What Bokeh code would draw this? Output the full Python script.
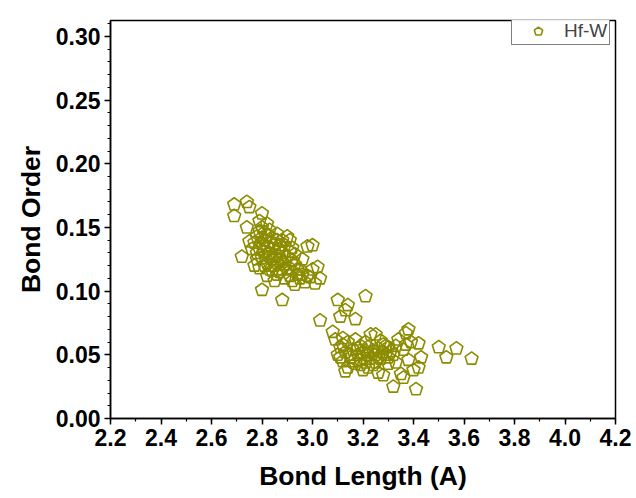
from bokeh.plotting import figure
from bokeh.models import ColumnDataSource, FixedTicker, NumeralTickFormatter, Legend, LegendItem
from bokeh.embed import file_html
from bokeh.resources import INLINE

bond_length = [
    2.69, 2.69, 2.74, 2.75, 2.72, 2.74, 2.75, 2.77, 2.78, 2.79, 2.80, 2.80, 2.81, 2.81, 2.82, 2.82,
    2.83, 2.83, 2.84, 2.84, 2.85, 2.85, 2.86, 2.86, 2.87, 2.87, 2.88, 2.88, 2.89, 2.89, 2.90, 2.90,
    2.91, 2.91, 2.92, 2.92, 2.93, 2.94, 2.95, 2.96, 2.97, 2.98, 2.98, 3.00, 3.00, 3.01, 3.02, 3.03,
    2.80, 2.85, 2.88, 2.79, 2.78, 2.77, 2.79, 2.80, 2.81, 2.82, 2.83, 2.84, 2.86, 2.87, 2.88, 2.89,
    2.90, 2.91, 2.93, 2.94, 2.95, 2.96, 2.82, 2.81, 2.83, 2.85, 2.86, 2.87, 2.80, 2.82, 2.84, 2.79,
    2.76, 2.78, 2.80, 2.83, 2.88, 2.91, 2.93, 2.99, 2.86, 2.92, 2.81,
    3.03, 3.08, 3.10, 3.11, 3.13, 3.14, 3.17, 3.21, 3.09, 3.12,
    3.10, 3.11, 3.12, 3.13, 3.14, 3.14, 3.15, 3.16, 3.17, 3.17, 3.18, 3.19, 3.19, 3.20, 3.20, 3.21,
    3.21, 3.22, 3.22, 3.23, 3.23, 3.24, 3.24, 3.25, 3.25, 3.26, 3.26, 3.27, 3.27, 3.28, 3.28, 3.29,
    3.30, 3.30, 3.31, 3.32, 3.32, 3.33, 3.34, 3.35, 3.36, 3.36, 3.37, 3.37, 3.38, 3.38, 3.39, 3.40,
    3.41, 3.42, 3.42, 3.43, 3.50, 3.53, 3.57, 3.63, 3.15, 3.16, 3.18, 3.23, 3.25, 3.29, 3.12, 3.19,
    3.22, 3.26, 3.28, 3.21, 3.30, 3.33, 3.13, 3.11,
]
bond_order = [
    0.168, 0.159, 0.170, 0.166, 0.127, 0.150, 0.139, 0.120, 0.143, 0.155, 0.161, 0.150, 0.146, 0.140, 0.153, 0.135,
    0.148, 0.130, 0.142, 0.125, 0.137, 0.120, 0.145, 0.128, 0.133, 0.115, 0.140, 0.123, 0.136, 0.110, 0.143, 0.127,
    0.131, 0.118, 0.124, 0.108, 0.121, 0.113, 0.117, 0.125, 0.107, 0.135, 0.112, 0.136, 0.117, 0.106, 0.119, 0.110,
    0.101, 0.108, 0.093, 0.118, 0.130, 0.138, 0.133, 0.126, 0.131, 0.122, 0.138, 0.133, 0.140, 0.125, 0.130, 0.121,
    0.117, 0.112, 0.129, 0.117, 0.110, 0.113, 0.144, 0.128, 0.117, 0.127, 0.113, 0.136, 0.137, 0.112, 0.116, 0.147,
    0.133, 0.125, 0.142, 0.127, 0.117, 0.140, 0.105, 0.111, 0.122, 0.134, 0.120,
    0.077, 0.068, 0.093, 0.080, 0.085, 0.089, 0.078, 0.096, 0.062, 0.063,
    0.050, 0.056, 0.045, 0.052, 0.040, 0.060, 0.048, 0.054, 0.043, 0.062, 0.050, 0.046, 0.057, 0.052, 0.038, 0.044,
    0.060, 0.050, 0.056, 0.066, 0.047, 0.053, 0.042, 0.066, 0.050, 0.055, 0.036, 0.047, 0.061, 0.052, 0.034, 0.057,
    0.048, 0.043, 0.053, 0.050, 0.025, 0.057, 0.062, 0.035, 0.032, 0.054, 0.067, 0.058, 0.070, 0.046, 0.060, 0.038,
    0.023, 0.059, 0.040, 0.048, 0.056, 0.048, 0.055, 0.047, 0.050, 0.045, 0.055, 0.052, 0.044, 0.050, 0.058, 0.042,
    0.040, 0.048, 0.058, 0.053, 0.056, 0.044, 0.037, 0.048,
]
series_name = "Hf-W"
x_ticks = [2.2, 2.4, 2.6, 2.8, 3.0, 3.2, 3.4, 3.6, 3.8, 4.0, 4.2]
y_ticks = [0.00, 0.05, 0.10, 0.15, 0.20, 0.25, 0.30]

color = "#8c8c00"
src = ColumnDataSource(data=dict(x=bond_length, y=bond_order))

p = figure(width=636, height=498, x_range=(2.2, 4.2), y_range=(0.0, 0.3125),
           output_backend="svg", toolbar_location=None,
           min_border_left=110, min_border_right=21, min_border_top=20, min_border_bottom=80)
p.xgrid.visible = False
p.ygrid.visible = False
p.outline_line_color = "black"
p.outline_line_width = 1.5
p.outline_line_alpha = 1.0

r = p.ngon(x="x", y="y", radius=6.8, radius_units="screen", n=5, angle=0.0,
           fill_color=None, line_color=color, line_width=1.6, source=src)

xminor = [round(2.2 + 0.1 * i, 2) for i in range(21)]
yminor = [round(0.01 * i, 2) for i in range(32)]
p.xaxis.ticker = FixedTicker(ticks=x_ticks, minor_ticks=xminor)
p.yaxis.ticker = FixedTicker(ticks=y_ticks, minor_ticks=yminor)
p.xaxis.formatter = NumeralTickFormatter(format="0.0")
p.yaxis.formatter = NumeralTickFormatter(format="0.00")

for ax in (p.xaxis, p.yaxis):
    ax.axis_line_width = 1.5
    ax.major_tick_line_width = 1.5
    ax.minor_tick_line_width = 1.2
    ax.major_tick_out = 6
    ax.major_tick_in = 0
    ax.minor_tick_out = 3
    ax.minor_tick_in = 0
    ax.major_label_text_font = "Liberation Sans"
    ax.major_label_text_font_style = "bold"
    ax.major_label_text_font_size = "23px"
    ax.major_label_text_color = "black"
    ax.axis_label_text_font = "Liberation Sans"
    ax.axis_label_text_font_style = "bold"
    ax.axis_label_text_font_size = "26.5px"
    ax.axis_label_text_color = "black"

p.xaxis.axis_label = "Bond Length (A)"
p.yaxis.axis_label = "Bond Order"
p.xaxis.major_label_standoff = 4
p.yaxis.major_label_standoff = 4
p.xaxis.axis_label_standoff = 12
p.yaxis.axis_label_standoff = 7

legend = Legend(items=[LegendItem(label=series_name, renderers=[r])], location=(401, 373))
legend.label_text_font = "Liberation Sans"
legend.label_text_font_size = "19px"
legend.label_height = 22
legend.glyph_height = 22
legend.border_line_color = "black"
legend.border_line_width = 1
legend.margin = 0
legend.padding = 2
legend.glyph_width = 48
legend.label_standoff = 2
legend.spacing = 0
p.add_layout(legend)

open("out.html", "w").write(file_html(p, INLINE))
